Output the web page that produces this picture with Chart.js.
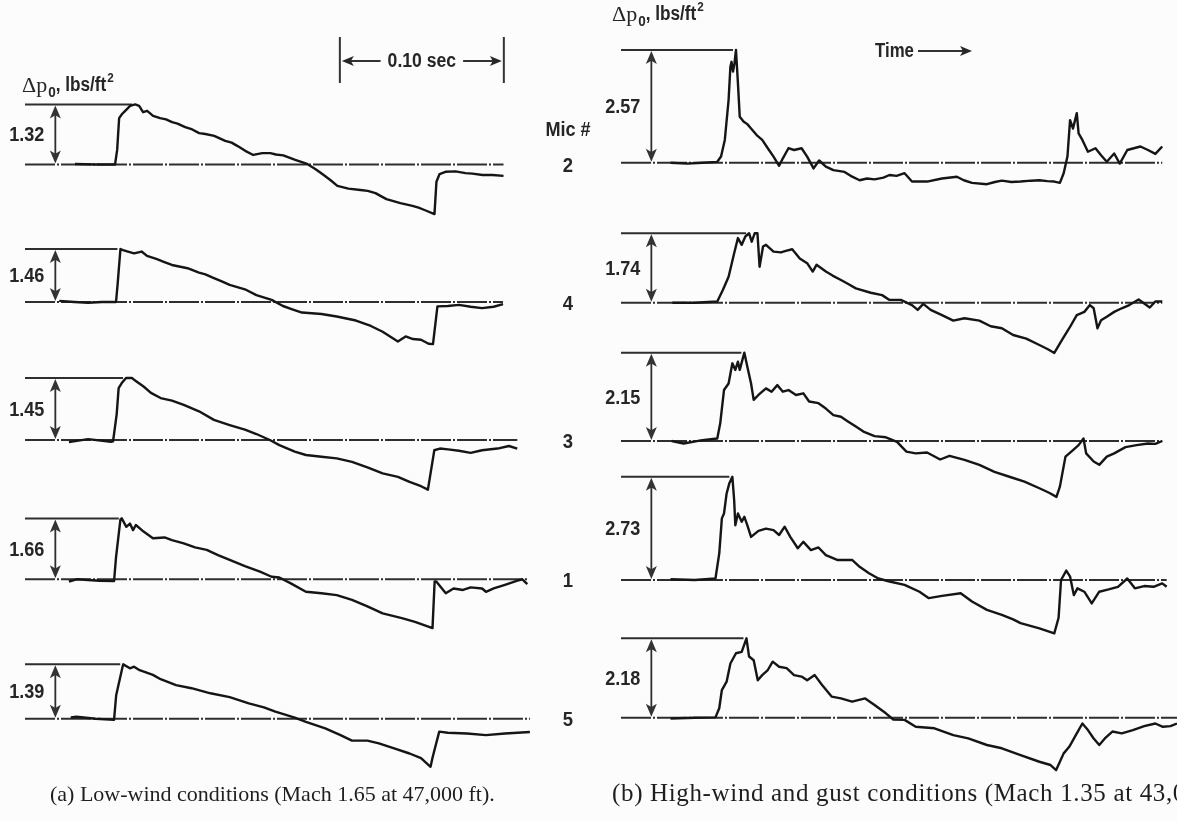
<!DOCTYPE html>
<html>
<head>
<meta charset="utf-8">
<script src="https://cdn.jsdelivr.net/npm/chart.js@4.4.0/dist/chart.umd.min.js"></script>
<style>
  html,body{margin:0;padding:0;background:#fcfcfc;width:1177px;height:821px;overflow:hidden;position:relative;}
  canvas{position:absolute;top:0;}
  #cL{left:0;} #cR{left:590px;}
  .cap{position:absolute;font-family:'Liberation Serif','Times New Roman',serif;color:#1e1e1e;white-space:nowrap;}
</style>
</head>
<body>
<canvas id="cL" width="600" height="821"></canvas>
<canvas id="cR" width="587" height="821"></canvas>
<div class="cap" style="left:50px;top:781px;font-size:22px;">(a) Low-wind conditions (Mach 1.65 at 47,000 ft).</div>
<div class="cap" style="left:612px;top:779px;font-size:25px;letter-spacing:0.65px;">(b) High-wind and gust conditions (Mach 1.35 at 43,000 ft).</div>
<script>
// ---------------- DATA ----------------
// microphone order (top to bottom)
const micNumbers = ['2', '4', '3', '1', '5'];
// peak overpressure Δp0 (lbs/ft²) per microphone
const peakLowWind  = [1.32, 1.46, 1.45, 1.66, 1.39];
const peakHighWind = [2.57, 1.74, 2.15, 2.73, 2.18];
// time-scale bar (ms)
const scaleBarStartMs = 192;
const scaleBarLengthMs = 100;
const scaleBarLabel = '0.10 sec';

// pressure signatures: [time ms, Δp lbs/ft²]
// (a) low wind
const lowMic2 = [[30.5,0.01],[42.7,0],[54.9,0],[56.2,0.32],[57.4,1.02],[59.2,1.11],[61.1,1.18],[64.1,1.29],[67.2,1.32],[69.6,1.29],[72.0,1.15],[74.5,1.18],[78.1,1.07],[82.4,1.02],[86,0.99],[89.7,0.93],[93,0.9],[97.7,0.82],[102,0.77],[106.2,0.69],[110,0.67],[115.4,0.63],[122.1,0.52],[126,0.48],[129.4,0.41],[134.3,0.30],[139.2,0.21],[144.7,0.25],[149.6,0.25],[153,0.22],[157.5,0.20],[164.8,0.10],[171.6,0.02],[177.0,-0.10],[181.3,-0.21],[186.2,-0.34],[190.5,-0.47],[197.2,-0.53],[204.5,-0.56],[209,-0.58],[213.7,-0.63],[220.4,-0.76],[228.9,-0.85],[236.3,-0.91],[240,-0.95],[243.6,-1.00],[249.7,-1.09],[250.9,-0.38],[252.8,-0.21],[256.4,-0.16],[262.5,-0.15],[268.6,-0.19],[272.9,-0.20],[279.0,-0.23],[285.1,-0.23],[291.8,-0.25]];
const lowMic4 = [[20.9,0.03],[30,0],[38.5,-0.02],[47,0],[55.5,0],[56.5,0.5],[58.2,1.46],[59.8,1.43],[62.8,1.39],[66.5,1.34],[71.1,1.39],[74.4,1.27],[80.5,1.18],[85,1.1],[89.6,1.02],[99.1,0.93],[106.1,0.81],[110,0.76],[115.2,0.66],[120,0.57],[124.8,0.47],[134.1,0.35],[141.1,0.19],[150.4,0.06],[157.3,-0.11],[163,-0.2],[168.9,-0.29],[180.8,-0.33],[190.1,-0.40],[201.8,-0.51],[210.9,-0.66],[218.1,-0.82],[222.6,-0.95],[227.4,-1.09],[232.1,-0.95],[236.6,-1.02],[241.5,-1.04],[246.1,-1.15],[248.8,-1.16],[251.5,-0.12],[257.8,-0.11],[264.6,-0.08],[271.8,-0.13],[278.7,-0.17],[285.8,-0.13],[291.5,-0.06]];
const lowMic3 = [[26.8,-0.05],[38.4,0.02],[52.4,-0.04],[53.7,-0.03],[55.9,0.6],[57.1,1.21],[59,1.33],[61.6,1.45],[65.2,1.45],[66.5,1.41],[72.3,1.25],[76.8,1.10],[82.7,0.98],[89.6,0.92],[96.8,0.82],[106.1,0.67],[115.2,0.47],[124.8,0.35],[134.1,0.24],[141.1,0.14],[149.3,0],[155.1,-0.12],[164.5,-0.27],[171.3,-0.35],[180.8,-0.39],[190.1,-0.43],[199.4,-0.51],[208.8,-0.64],[218.1,-0.78],[227.4,-0.86],[234.5,-0.98],[241.5,-1.08],[245.7,-1.16],[249.6,-0.24],[253,-0.20],[258,-0.22],[264.6,-0.25],[271.8,-0.30],[278.7,-0.24],[288.1,-0.20],[295.1,-0.14],[300.2,-0.20]];
const lowMic1 = [[26.8,-0.06],[31.4,0],[45.4,-0.04],[54.3,-0.05],[55.5,0.6],[58.2,1.63],[59,1.66],[61.8,1.43],[64,1.52],[65.9,1.34],[67.6,1.48],[72.3,1.30],[78,1.12],[85.1,1.14],[89.6,1.07],[96.8,0.98],[103.7,0.87],[110.8,0.80],[117.7,0.66],[124.8,0.53],[134.1,0.36],[143.3,0.21],[150.4,0.07],[155.1,0.05],[162.1,-0.11],[171.3,-0.34],[180.8,-0.38],[190.1,-0.43],[199.4,-0.56],[208.8,-0.74],[218.1,-0.93],[229.8,-1.06],[237.8,-1.16],[248.5,-1.33],[249.8,-0.06],[250.8,-0.06],[256.6,-0.38],[261.3,-0.25],[267.1,-0.29],[271.8,-0.22],[278.7,-0.25],[281.1,-0.34],[285.8,-0.25],[292.7,-0.15],[299.8,-0.04],[303.3,0],[306.3,-0.13]];
const lowMic5 = [[27.9,0.03],[31.4,0.05],[43.1,0],[54.3,-0.03],[55.6,0.6],[59.5,1.33],[59.9,1.39],[64,1.29],[66.5,1.33],[69.9,1.24],[78,1.12],[82.7,1.01],[92.1,0.86],[101.5,0.78],[113.1,0.65],[124.8,0.55],[136.5,0.39],[145.7,0.29],[152.7,0.18],[164.5,0.03],[171.3,-0.08],[183.1,-0.25],[192.4,-0.42],[199.4,-0.56],[208.8,-0.56],[215.8,-0.63],[225.1,-0.76],[234.5,-0.89],[241.5,-1.01],[247.3,-1.23],[248.5,-1.0],[252.6,-0.33],[257.8,-0.36],[269.5,-0.38],[281.1,-0.42],[292.7,-0.38],[307.9,-0.34]];
// (b) high wind and gust
const highMic2 = [[30.2,0],[40.5,-0.02],[49.6,0],[58.7,0.02],[61,0.14],[63.3,0.52],[65.6,1.43],[66.7,2.19],[67.4,2.30],[68.3,2.08],[69.2,2.27],[70.1,2.57],[71.3,1.81],[72.4,1.05],[74.7,0.94],[77,0.88],[79.3,0.78],[82.7,0.63],[86.1,0.52],[89.5,0.33],[93,0.14],[96.4,-0.07],[98.7,0.10],[102.1,0.33],[105.5,0.29],[110.1,0.33],[113.5,0.14],[117.4,-0.13],[120.8,0.05],[124.9,-0.09],[129.5,-0.17],[136.3,-0.21],[140,-0.30],[145.5,-0.40],[150,-0.36],[154.6,-0.38],[160,-0.34],[163.7,-0.28],[168,-0.30],[172.9,-0.24],[177.4,-0.43],[186.6,-0.43],[195.7,-0.36],[204.8,-0.32],[209,-0.40],[214,-0.46],[223.1,-0.49],[228,-0.44],[232.2,-0.41],[238,-0.44],[243.6,-0.43],[250,-0.41],[255.1,-0.40],[260,-0.42],[264.2,-0.43],[267.6,-0.46],[269.9,-0.24],[272.2,0.14],[273.8,0.97],[275.6,0.78],[277.9,1.13],[279,0.67],[281.3,0.52],[284.7,0.25],[289.3,0.33],[292.7,0.17],[296.2,0.02],[300.7,0.21],[304.1,-0.02],[308.7,0.29],[316.7,0.37],[321.3,0.29],[325.8,0.20],[330,0.37]];
const highMic4 = [[31.3,0],[45,0],[58.7,0.03],[62.1,0.32],[65.6,0.65],[69,1.24],[71.3,1.62],[73.6,1.45],[75.8,1.66],[78.1,1.74],[79.7,1.53],[81.5,1.74],[83.2,1.74],[84.5,0.90],[86.6,1.41],[88.4,1.45],[93,1.28],[97.5,1.26],[100.5,1.30],[104.4,1.34],[109,1.11],[113.5,0.99],[116.9,0.78],[119.2,0.95],[124.9,0.78],[129,0.68],[134.1,0.57],[138,0.48],[143.2,0.36],[152.3,0.25],[159.2,0.19],[163.7,0.07],[170.6,0.07],[177.4,-0.06],[180.9,-0.18],[184.3,-0.03],[188.8,-0.18],[195.7,-0.31],[202.6,-0.45],[209.4,-0.39],[218.5,-0.45],[225.4,-0.59],[232.2,-0.64],[239.1,-0.81],[247.1,-0.90],[255.1,-1.06],[260,-1.16],[264.2,-1.26],[268.8,-0.94],[273.3,-0.64],[277.9,-0.31],[282.5,-0.23],[285.9,-0.06],[288.2,-0.14],[290.5,-0.64],[292.7,-0.44],[296.2,-0.35],[300.7,-0.23],[305.3,-0.14],[309.9,-0.06],[315.6,0.08],[319,-0.02],[322.4,-0.12],[325.8,0.03],[330,0.03]];
const highMic3 = [[30.9,0],[38.2,-0.06],[49.6,0.02],[58.7,0.06],[60.5,0.43],[62.8,1.24],[65.6,1.40],[67.9,1.89],[69.7,1.73],[71.3,1.93],[72.4,1.73],[75.2,2.15],[77,1.81],[79.3,1.40],[80.9,1.00],[83.8,1.12],[88.4,1.28],[91.8,1.20],[95.3,1.36],[98.7,1.20],[102.1,1.24],[106.7,1.12],[111.2,1.16],[114.7,0.96],[120.4,0.92],[124.9,0.79],[129.5,0.63],[134.1,0.59],[138.6,0.47],[143.2,0.35],[147.8,0.23],[154.6,0.12],[161.5,0.09],[168.3,-0.02],[174,-0.26],[179.7,-0.30],[186.6,-0.28],[194.6,-0.45],[200.3,-0.36],[209.4,-0.46],[218.5,-0.58],[227.7,-0.75],[236.8,-0.87],[246,-0.99],[255.1,-1.15],[261,-1.26],[265.5,-1.36],[267.6,-1.11],[271,-0.38],[275.6,-0.22],[279,-0.10],[282,0.06],[283.6,-0.30],[288.2,-0.50],[291.6,-0.58],[296.2,-0.38],[300.7,-0.30],[307.6,-0.15],[314.4,-0.10],[321.3,-0.06],[325.8,-0.07],[330,0]];
const highMic1 = [[30.2,0.02],[45,0],[57.6,0.04],[59.9,0.70],[61.5,1.63],[62.8,1.76],[64.4,2.29],[66,2.55],[67.9,2.73],[69,2.11],[69.7,1.45],[71.3,1.76],[73.6,1.54],[75.2,1.67],[77,1.45],[79.3,1.14],[83.8,1.30],[88.4,1.36],[93,1.32],[96.4,1.19],[99.8,1.41],[103.2,1.14],[107.8,0.84],[111.2,1.01],[115.8,0.79],[120.4,0.86],[124.9,0.66],[131.8,0.53],[140.9,0.53],[145.5,0.35],[151.2,0.18],[156.9,0.04],[163.7,-0.04],[172.9,-0.13],[182,-0.31],[187.7,-0.48],[195.7,-0.42],[207.1,-0.35],[214,-0.57],[223.1,-0.79],[232.2,-0.92],[239.1,-1.04],[243.6,-1.14],[255.1,-1.28],[264.2,-1.41],[266.8,-1.0],[268.3,0.0],[271.5,0.25],[273.8,0.09],[276.1,-0.40],[278.3,-0.22],[282.5,-0.31],[287,-0.62],[291.6,-0.31],[297.3,-0.25],[303,-0.18],[308.7,0.04],[313.3,-0.22],[319,-0.16],[324.7,-0.18],[330,-0.09],[332.7,-0.18]];
const highMic5 = [[30.2,-0.02],[45,0],[57.6,0.01],[59.9,0.26],[61.5,0.76],[64.4,0.99],[66.7,1.49],[70.1,1.77],[73.6,1.81],[76.5,2.18],[78.1,1.68],[80.9,1.58],[83.4,1.03],[86.1,1.17],[89.5,1.31],[92.5,1.54],[96.4,1.40],[101,1.36],[105.5,1.17],[110.1,1.13],[113.5,1.03],[118.1,1.17],[122.6,0.90],[128.4,0.58],[134.1,0.53],[140.9,0.44],[148.9,0.53],[154.6,0.35],[161.5,0.12],[166,-0.05],[172.9,-0.06],[179.7,-0.25],[191.1,-0.29],[202.6,-0.48],[211.7,-0.57],[223.1,-0.75],[232.2,-0.84],[243.6,-1.03],[255.1,-1.21],[261.9,-1.30],[265.3,-1.44],[267.6,-1.21],[269.9,-0.98],[273.3,-0.80],[277.9,-0.43],[281.3,-0.16],[284.7,-0.34],[288.2,-0.57],[291.6,-0.75],[295,-0.57],[299.6,-0.38],[305.3,-0.43],[312.1,-0.34],[319,-0.23],[325.8,-0.16],[330.4,-0.25],[335,-0.23],[339,-0.16]];

// ---------------- LAYOUT (not data) ----------------
const H = 821;
const panels = {
  low:  { traces:[lowMic2,lowMic4,lowMic3,lowMic1,lowMic5], peaks:peakLowWind,
          base:[164.5,302,440,579.3,718.7], pxPerUnit:[45.5,36.3,42.8,36.7,39.1],
          xMax:311, pad:{left:25,right:65,top:0,bottom:0} },
  high: { traces:[highMic2,highMic4,highMic3,highMic1,highMic5], peaks:peakHighWind,
          base:[162.7,302.7,441,580,717.7], pxPerUnit:[43.85,39.9,41.1,37.8,36.4],
          xMax:339, pad:{left:31,right:0,top:0,bottom:0} }
};
const arrowTimeMs = 18.5;
const INK = '#262626';

function line(ctx,x1,y1,x2,y2){ctx.beginPath();ctx.moveTo(x1,y1);ctx.lineTo(x2,y2);ctx.stroke();}
function head(ctx,x,y,dx,dy,len,hw){
  const bx=x-dx*len, by=y-dy*len, nx=-dy, ny=dx;
  ctx.beginPath();ctx.moveTo(x,y);ctx.lineTo(bx+nx*hw,by+ny*hw);
  ctx.lineTo(x-dx*len*0.75,y-dy*len*0.75);ctx.lineTo(bx-nx*hw,by-ny*hw);ctx.closePath();ctx.fill();
}
// condensed bold sans text (Helvetica Condensed look)
function ntext(ctx,txt,x,y,size,align,sx){
  sx = sx || 0.86;
  ctx.save();
  ctx.font = "bold "+size+"px 'Liberation Sans',Arial,sans-serif";
  ctx.textAlign='left'; ctx.textBaseline='middle';
  const w = ctx.measureText(txt).width*sx;
  const x0 = align==='center' ? x-w/2 : align==='right' ? x-w : x;
  ctx.translate(x0,y); ctx.scale(sx,1); ctx.fillText(txt,0,0);
  ctx.restore();
  return w;
}
function drawHeader(ctx,x,yb){
  ctx.save();ctx.fillStyle=INK;ctx.textAlign='left';ctx.textBaseline='alphabetic';
  ctx.font="22px 'Liberation Serif',serif"; ctx.fillText('Δp',x,yb); let w=ctx.measureText('Δp').width;
  ctx.restore();
  ctx.fillStyle=INK;
  w += ntext(ctx,'0',x+w+1,yb+1,15,'left',0.9)+1;
  w += ntext(ctx,', lbs/ft',x+w,yb-7,20,'left',0.86);
  ntext(ctx,'2',x+w+1,yb-14,13,'left',0.9);
}

const annot = {
  id:'annot',
  beforeDatasetsDraw(chart,args,opts){
    const P = panels[opts.side]; const ctx = chart.ctx; const xs = chart.scales.x;
    ctx.save();
    P.traces.forEach((tr,k)=>{
      const ys = chart.scales['y'+k];
      const y0 = ys.getPixelForValue(0), yp = ys.getPixelForValue(P.peaks[k]);
      const xL = xs.getPixelForValue(0);
      const xEnd = xs.getPixelForValue(tr[tr.length-1][0]);
      const tPeak = tr.reduce((a,b)=> b[1]>a[1]?b:a)[0];
      ctx.strokeStyle='#2e2e2e'; ctx.lineWidth=2;
      ctx.setLineDash([30,2,2,2]); line(ctx,xL,y0,xEnd,y0); ctx.setLineDash([]);
      line(ctx,xL,yp,xs.getPixelForValue(tPeak)-3,yp);
      const xa = xs.getPixelForValue(arrowTimeMs);
      ctx.fillStyle='#333'; ctx.lineWidth=1.8;
      line(ctx,xa,yp+6,xa,y0-6);
      head(ctx,xa,yp+1,0,-1,13,5.5); head(ctx,xa,y0-1,0,1,13,5.5);
      ctx.fillStyle=INK;
      ntext(ctx,P.peaks[k].toFixed(2), xa-11, (y0+yp)/2+1, 21,'right',0.86);
      if(opts.side==='low'){
        ntext(ctx,micNumbers[k],568,y0+2,21,'center',0.88);
        if(k===0) ntext(ctx,'Mic #',568,y0-34,21,'center',0.86);
      }
    });
    ctx.restore();
    if(opts.side==='low'){
      drawHeader(ctx,22,92);
      const xa=xs.getPixelForValue(scaleBarStartMs), xb=xs.getPixelForValue(scaleBarStartMs+scaleBarLengthMs);
      ctx.save(); ctx.strokeStyle='#333'; ctx.fillStyle=INK; ctx.lineWidth=2;
      line(ctx,xa,37,xa,83); line(ctx,xb,37,xb,83);
      const xm=(xa+xb)/2;
      const tw=ntext(ctx,scaleBarLabel,xm,61,20,'center',0.88);
      ctx.lineWidth=1.8; line(ctx,xa+8,61,xm-tw/2-7,61); line(ctx,xm+tw/2+7,61,xb-8,61);
      head(ctx,xa+2,61,-1,0,12,5); head(ctx,xb-2,61,1,0,12,5);
      ctx.restore();
    } else {
      drawHeader(ctx,22,21);
      ctx.save(); ctx.fillStyle=INK; ctx.strokeStyle='#333'; ctx.lineWidth=1.8;
      ntext(ctx,'Time',285,51,20,'left',0.84);
      line(ctx,328,51,376,51); head(ctx,382,51,1,0,12,5);
      ctx.restore();
    }
  }
};

function makeChart(id, side){
  const P = panels[side];
  const scales = { x:{type:'linear',min:0,max:P.xMax,display:false} };
  P.traces.forEach((tr,k)=>{
    const s=P.pxPerUnit[k], b=P.base[k];
    scales['y'+k]={type:'linear',display:false,min:-(H-b)/s,max:b/s};
  });
  return new Chart(document.getElementById(id),{
    type:'line',
    data:{datasets:P.traces.map((tr,k)=>({
      label:'Mic '+micNumbers[k],
      data:tr.map(p=>({x:p[0],y:p[1]})),
      yAxisID:'y'+k, borderColor:'#151515', borderWidth:2.4, pointRadius:0,
      tension:0, fill:false, clip:false, borderJoinStyle:'round'
    }))},
    options:{responsive:false,animation:false,devicePixelRatio:1,
      layout:{padding:P.pad}, scales,
      plugins:{legend:{display:false},tooltip:{enabled:false},annot:{side}}},
    plugins:[annot]
  });
}
makeChart('cL','low');
makeChart('cR','high');
</script>
</body>
</html>
